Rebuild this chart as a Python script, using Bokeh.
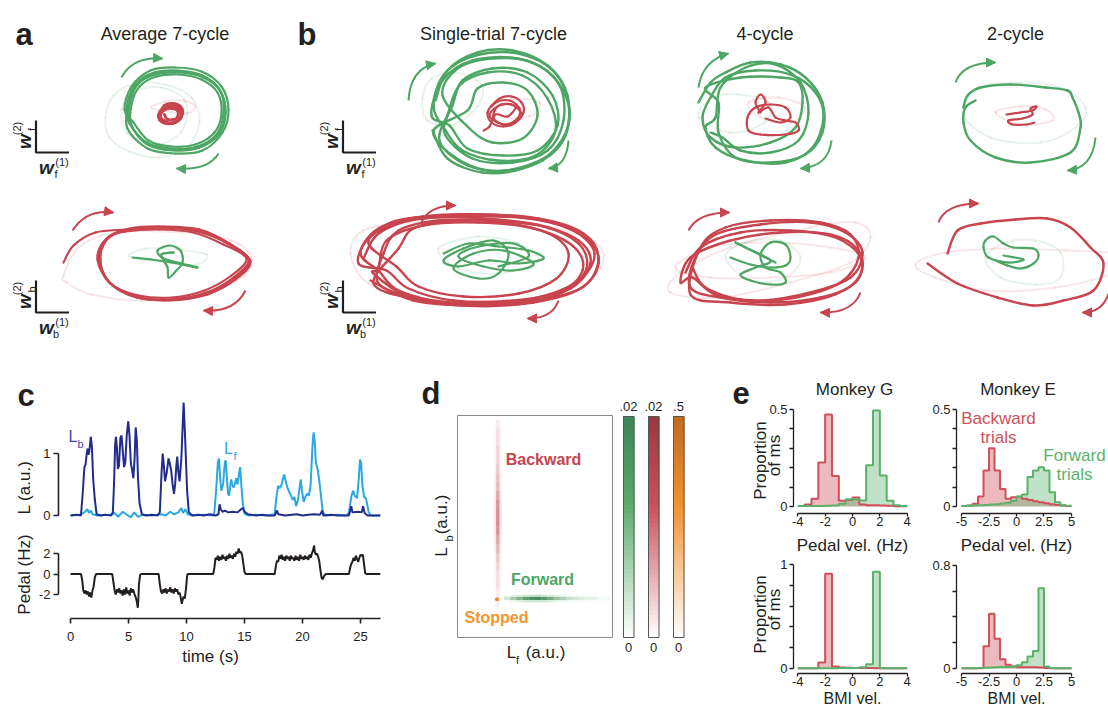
from bokeh.plotting import figure
from bokeh.layouts import row, column
from bokeh.models import Range1d, Label, Arrow, NormalHead, FixedTicker, CustomJSTickFormatter
from bokeh.embed import file_html
from bokeh.resources import INLINE

FONT = "Liberation Sans"
INK = "#231f20"
GREEN = "#4ea664"
RED = "#c8444e"
FAINT = 0.13
NAVY = "#212c8c"
SKY = "#2aa9e1"

# ======================= DATA =======================
cycle_titles = ["Average 7-cycle", "Single-trial 7-cycle", "4-cycle", "2-cycle"]

# --- panel a: average 7-cycle, forward plane (w_f) ---
avg7_fwd_green = [(-46, 2), (-38, 24), (-20, 36), (4, 38), (28, 34), (46, 20), (52, -2), (46, -24), (26, -38), (0, -41), (-26, -35), (-42, -16),
                  (-42, 5), (-34, 23), (-17, 33), (6, 35), (28, 30), (44, 17), (48, -4), (41, -23), (22, -35), (-2, -37), (-25, -31), (-40, -13),
                  (-49, 0), (-42, 23), (-23, 39), (2, 42), (28, 38), (48, 23), (55, 0), (49, -23), (29, -41), (2, -44), (-26, -39), (-46, -19),
                  (-45, 3), (-37, 26), (-19, 37), (5, 39), (29, 34), (46, 20), (52, -3), (45, -24), (25, -38), (-1, -40), (-26, -34), (-43, -15),
                  (-44, 4), (-36, 25), (-18, 35), (6, 37), (30, 32), (47, 18), (50, -4), (43, -25), (24, -37), (-2, -39), (-27, -33), (-44, -14),
                  (-47, 1), (-39, 24), (-21, 36), (3, 38)]
avg7_fwd_red = [(-13, -3), (-9, 4), (-1, 6), (7, 3), (9, -4), (3, -12), (-7, -14), (-14, -10), (-12, -2), (-5, 3), (5, 1), (8, -7),
                (1, -13), (-9, -13), (-15, -7), (-11, 1), (-3, 5), (6, 2), (7, -8), (-1, -14), (-10, -11), (-13, -5), (-6, 1), (4, -1),
                (3, -9), (-6, -10), (-9, -5)]
avg7_fwd_faint_green = [[(-68, -8), (-60, 14), (-38, 26), (-8, 25), (18, 12), (26, -12), (14, -38), (-14, -48), (-44, -42), (-64, -28)],
                        [(-52, 0), (-38, 18), (-12, 22), (12, 8), (8, -22), (-20, -36), (-46, -24)]]
avg7_fwd_faint_red = [[(-22, 2), (-8, 8), (10, 9), (22, 3), (14, -4), (-5, -2)]]

# --- panel a: average 7-cycle, backward plane (w_b) ---
avg7_bwd_red = [(-108, 0), (-98, 17), (-76, 30),
                (-45, 33), (-10, 35), (25, 32), (55, 20), (77, 3), (62, -15), (35, -30), (0, -37), (-35, -35), (-62, -20), (-73, 5), (-65, 24),
                (-42, 34), (-8, 36), (28, 33), (58, 19), (79, 1), (64, -17), (36, -32), (-2, -38), (-37, -34), (-64, -18), (-71, 7), (-62, 26),
                (-46, 31), (-12, 33), (22, 30), (52, 18), (75, 4), (60, -13), (33, -28), (1, -35), (-33, -33), (-61, -21), (-74, 3), (-66, 22),
                (-43, 33), (-9, 35), (26, 31), (56, 19), (78, 2), (63, -16), (34, -31), (0, -37), (-36, -34), (-63, -19), (-72, 6), (-63, 25), (-44, 32)]
avg7_bwd_green = [(-39, 5), (-20, 3), (0, 0), (26, -5), (10, -1), (-8, 4), (-14, 12), (-2, 17), (9, 12), (11, 0), (4, -9), (-3, -15),
                  (-4, -5), (-10, 8), (2, 10), (-8, 9)]
avg7_bwd_faint_red = [[(-108, -13), (-92, 16), (-55, 30), (10, 30), (60, 22), (80, 5), (70, -15), (30, -32), (-30, -38), (-80, -32), (-105, -20)]]
avg7_bwd_faint_green = [[(-42, 6), (-25, 14), (5, 13), (35, 8), (25, -2), (-5, 0)]]

# --- panel b: single-trial 7-cycle ---
single_fwd_green = [(-62, 10), (-50, 40), (-20, 58), (15, 60), (50, 45), (70, 15), (68, -25), (45, -50), (10, -60), (-30, -55), (-58, -30),
                    (-45, 5), (-35, 30), (-5, 42), (30, 38), (55, 15), (60, -15), (40, -40), (5, -45), (-30, -38), (-48, -15),
                    (-66, -5), (-55, 30), (-25, 50), (20, 52), (55, 35), (72, 0), (62, -35), (30, -55), (-10, -60), (-45, -45), (-64, -20),
                    (-30, 0), (-20, 22), (5, 28), (30, 20), (40, -5), (25, -28), (-5, -32), (-28, -18),
                    (-55, 15), (-40, 42), (-5, 52), (35, 48), (62, 25), (66, -10), (50, -40), (15, -52), (-25, -48), (-52, -25),
                    (-50, -5), (-38, 25), (-10, 38), (25, 35), (50, 12), (58, -20), (38, -45), (0, -50), (-35, -40), (-52, -20),
                    (-64, 5), (-52, 38), (-18, 56), (25, 56), (60, 35), (72, -5), (58, -38), (25, -58), (-15, -62), (-50, -48), (-65, -20)]
single_fwd_red = [(-6, 4), (2, 12), (14, 14), (24, 8), (26, -2), (18, -12), (6, -16), (-6, -12), (-10, -2), (-2, 8), (12, 10), (22, 2),
                  (20, -8), (8, -14), (-4, -8), (0, 4), (14, 6), (24, -4), (14, -14), (0, -12), (-8, -4), (4, 6), (18, 4), (10, -6),
                  (-2, -4), (-8, -16), (-14, -20)]
single_fwd_faint_green = [[(-75, 12), (-66, 32), (-42, 38), (-16, 26), (-20, 4), (-44, -14), (-70, -10)]]
single_fwd_faint_red = [[(-2, 6), (20, 12), (42, 8), (32, -6), (6, -6)]]

single_bwd_red = [(-115, 0), (-100, 25), (-60, 40), (0, 44), (60, 40), (105, 25), (120, 0), (105, -28), (60, -42), (0, -46), (-60, -40), (-100, -25),
                  (-95, 5), (-80, 28), (-40, 38), (10, 38), (65, 32), (100, 15), (108, -10), (85, -32), (35, -42), (-25, -42), (-70, -30), (-92, -12),
                  (-120, -5), (-108, 22), (-70, 38), (-10, 42), (50, 40), (95, 28), (116, 5), (100, -22), (55, -40), (-5, -45), (-65, -40), (-105, -25),
                  (-80, 10), (-65, 30), (-25, 38), (25, 36), (70, 25), (90, 5), (78, -20), (40, -35), (-15, -38), (-60, -28), (-82, -8),
                  (-110, 15), (-90, 35), (-50, 42), (5, 40), (58, 34), (100, 18), (112, -5), (92, -30), (45, -45), (-15, -47), (-70, -38), (-105, -15),
                  (-100, -10), (-92, 18), (-55, 33), (0, 36), (55, 30), (95, 12), (104, -12), (80, -35), (30, -44), (-30, -44), (-80, -32), (-100, -12),
                  (-118, 5), (-100, 30), (-55, 42), (5, 44), (65, 38), (108, 20), (120, -5), (102, -30), (55, -44), (-5, -47), (-65, -42), (-108, -22)]
single_bwd_green = [(-35, 5), (-10, 15), (20, 12), (50, 8), (65, 0), (40, -5), (10, -2), (-20, -8), (-35, -2), (-15, 10), (15, 18), (30, 5),
                    (20, -15), (0, -20), (-25, -10), (-5, 5), (25, 8), (55, -5), (35, -12), (5, -8), (-20, 2), (0, 12), (35, 15), (50, 2), (20, -8)]
single_bwd_faint_red = [[(-128, 5), (-115, 28), (-70, 36), (0, 36), (70, 32), (118, 15), (122, -10), (90, -35), (20, -42), (-60, -40), (-110, -25)]]
single_bwd_faint_green = [[(-40, 10), (0, 22), (40, 15), (60, -2), (20, -15), (-20, -10)]]

# --- panel b: 4-cycle ---
four_fwd_green = [(-62, 10), (-50, 30),
                  (-35, 40), (-10, 50), (20, 48), (45, 35), (62, 10), (62, -20), (45, -42), (10, -50), (-25, -45), (-42, -20), (-42, 10),
                  (-55, 25), (-20, 35), (20, 35), (38, 30), (42, 10), (35, -15), (10, -30), (-25, -35), (-50, -25), (-58, -5),
                  (-50, 15), (-35, 35), (-5, 42), (30, 38), (55, 20), (63, -5), (52, -35), (25, -50), (-15, -48), (-45, -35), (-55, -15),
                  (-45, -5), (-40, 25), (-15, 45), (15, 48), (40, 30), (48, 0), (38, -28), (10, -40), (-20, -38), (-38, -25), (-50, -20)]
four_fwd_red = [(0, 0), (-5, 10), (0, 18), (5, 10), (-2, 0), (8, 5), (15, -5), (25, -8), (35, -10), (38, -18), (25, -22), (0, -22),
                (-12, -18), (-13, -5), (-5, 5), (10, 8), (25, 5), (30, -5), (20, -10), (5, -6)]
four_fwd_faint_green = [[(-62, -5), (-48, 15), (-22, 18), (8, 10), (4, -10), (-30, -20)]]
four_fwd_faint_red = [[(-12, 10), (18, 15), (44, 5), (30, -10), (0, -5)]]

four_bwd_red = [(-85, -10), (-70, 15), (-30, 30), (20, 32), (65, 25), (90, 5), (85, -20), (50, -35), (0, -40), (-50, -35), (-80, -25),
                (-75, 5), (-55, 28), (-10, 38), (40, 40), (75, 30), (92, 10), (80, -15), (40, -30), (-10, -38), (-55, -32), (-78, -15),
                (-90, -20), (-80, 5), (-40, 22), (10, 30), (60, 28), (88, 12), (90, -12), (65, -32), (15, -42), (-40, -40), (-80, -32),
                (-70, 15), (-45, 35), (0, 42), (50, 40), (80, 28), (88, 5), (70, -20), (25, -35), (-25, -38), (-65, -25), (-78, -5)]
four_bwd_green = [(-40, 5), (-20, -2), (0, -5), (15, -3), (20, 5), (15, 18), (0, 20), (-10, 8), (-5, -5), (10, -10), (15, -20), (0, -22),
                  (-20, -18), (-30, -12), (-15, -5), (0, 2), (-25, 15), (-35, 20), (-15, 10), (5, 0)]
four_bwd_faint_red = [[(-100, -30), (-90, -10), (-40, 15), (40, 35), (85, 40), (100, 25), (80, 0), (20, -20), (-50, -35)],
                      [(-95, -5), (-60, 15), (0, 20), (60, 15), (95, 5), (60, -10), (0, -15), (-60, -15)]]
four_bwd_faint_green = [[(-45, 5), (-25, 20), (10, 22), (30, 5), (15, -15), (-20, -18)]]

# --- panel b: 2-cycle ---
two_fwd_green = [(-57, 15), (-53, 27), (-40, 35), (-10, 38), (25, 35), (47, 32), (52, 25), (58, 10), (60, -5), (50, -30), (10, -40),
                 (-25, -35), (-50, -18), (-57, 0), (-55, 15), (-45, 22)]
two_fwd_red = [(-14, 8), (0, 10), (12, 12), (16, 16), (10, 14), (12, 8), (2, 4), (-12, 2), (-8, -2), (6, -2), (14, 0)]
two_fwd_faint_green = [[(-58, 10), (-40, 35), (0, 40), (40, 35), (65, 15), (55, -5), (20, -20), (-30, -15)]]
two_fwd_faint_red = [[(-25, 10), (0, 16), (25, 13), (32, 2), (0, -2)]]

two_bwd_red = [(-78, 9), (-68, 32), (-45, 39), (-10, 43), (22, 44), (45, 35), (65, 15), (78, -1), (68, -28), (38, -38), (8, -43),
               (-28, -35), (-68, -21), (-98, -1)]
two_bwd_green = [(-22, 7), (-2, 3), (-18, 0), (-37, 5), (-42, 15), (-40, 22), (-32, 26), (-22, 19), (-12, 15), (8, 14), (13, 7), (8, -1),
                 (-5, -6), (-18, -3), (-30, 2)]
two_bwd_faint_red = [[(-110, -2), (-80, 10), (-20, 14), (40, 12), (85, 10), (110, 5), (90, -10), (30, -25), (-40, -28), (-90, -15)]]
two_bwd_faint_green = [[(-40, 5), (-20, 20), (10, 22), (35, 10), (35, -15), (10, -22), (-25, -15)]]

# --- panel c: time series ---
lb_trace = [(0.0, 0.0), (0.5, 0.01), (0.9, 0.0), (1.05, 0.35), (1.2, 0.78), (1.3, 0.82), (1.4, 1.0), (1.48, 1.08), (1.55, 0.98), (1.63, 1.05),
            (1.75, 1.27), (1.85, 1.1), (1.95, 0.6), (2.1, 0.25), (2.25, 0.02), (2.6, 0.0), (3.0, 0.01), (3.5, 0.0),
            (3.65, 0.05), (3.75, 0.5), (3.85, 1.15), (3.92, 1.27), (4.0, 1.1), (4.08, 0.75), (4.18, 0.8), (4.3, 1.25), (4.4, 1.29), (4.5, 1.05),
            (4.62, 0.78), (4.72, 0.85), (4.85, 1.3), (4.98, 1.52), (5.08, 1.3), (5.2, 0.85), (5.32, 0.72), (5.42, 0.6), (5.52, 0.9), (5.62, 1.42),
            (5.72, 1.2), (5.82, 0.6), (5.95, 0.2), (6.15, 0.02), (6.5, 0.0), (7.0, 0.01), (7.5, 0.0),
            (7.7, 0.05), (7.85, 0.7), (7.95, 1.0), (8.05, 0.8), (8.15, 0.55), (8.3, 0.7), (8.45, 0.92), (8.55, 0.85), (8.68, 0.72), (8.8, 0.5),
            (8.92, 0.35), (9.02, 0.5), (9.12, 0.8), (9.2, 0.95), (9.3, 0.7), (9.4, 0.55), (9.55, 0.9), (9.68, 1.5), (9.75, 1.82), (9.85, 1.4),
            (9.95, 0.9), (10.05, 0.4), (10.2, 0.05), (10.5, 0.0), (11.0, 0.01), (11.5, 0.0), (12.0, 0.02), (12.5, 0.0), (12.75, 0.02),
            (12.85, 0.18), (12.95, 0.1), (13.1, 0.06), (13.3, 0.08), (13.6, 0.05), (14.0, 0.06), (14.4, 0.05), (14.7, 0.1), (14.85, 0.12),
            (15.0, 0.06), (15.3, 0.02), (16.0, 0.0), (16.5, 0.01), (17.0, 0.0), (17.6, 0.0), (17.8, 0.08), (17.9, 0.02), (18.5, 0.0),
            (19.5, 0.02), (20.0, 0.0), (20.5, 0.01), (21.0, 0.02), (21.5, 0.01), (21.7, 0.08), (21.8, 0.0), (22.5, 0.01), (23.0, 0.0),
            (24.0, 0.0), (24.1, 0.08), (24.2, 0.15), (24.3, 0.05), (24.8, 0.06), (25.1, 0.05), (25.22, 0.15), (25.35, 0.04), (25.6, 0.0),
            (26.7, 0.0)]
lf_trace = [(0.0, 0.0), (0.8, 0.01), (1.2, 0.05), (1.45, 0.1), (1.6, 0.04), (1.75, 0.08), (1.9, 0.02), (2.3, 0.0), (3.5, 0.01), (3.8, 0.04),
            (4.1, -0.02), (4.5, 0.06), (4.8, 0.02), (5.2, -0.03), (5.5, 0.05), (5.8, -0.02), (6.2, 0.01), (7.0, 0.0), (7.8, 0.02), (8.2, 0.0),
            (8.6, 0.06), (8.9, 0.02), (9.3, 0.05), (9.55, 0.12), (9.7, 0.04), (9.9, 0.1), (10.1, 0.02), (10.5, 0.0), (11.5, 0.01), (12.3, 0.0),
            (12.4, 0.05), (12.55, 0.4), (12.7, 0.85), (12.8, 0.92), (12.9, 0.6), (13.0, 0.4), (13.15, 0.5), (13.3, 0.85), (13.38, 0.89),
            (13.48, 0.6), (13.58, 0.35), (13.68, 0.32), (13.78, 0.5), (13.85, 0.58), (13.95, 0.5), (14.05, 0.45), (14.15, 0.5), (14.3, 0.6),
            (14.4, 0.5), (14.55, 0.7), (14.62, 0.78), (14.72, 0.5), (14.85, 0.2), (15.0, 0.03), (15.3, 0.0), (16.0, 0.01), (17.0, 0.0),
            (17.6, 0.02), (17.75, 0.3), (17.9, 0.48), (18.05, 0.44), (18.2, 0.5), (18.35, 0.62), (18.42, 0.66), (18.55, 0.55), (18.7, 0.45),
            (18.85, 0.38), (19.0, 0.32), (19.15, 0.25), (19.3, 0.3), (19.45, 0.15), (19.6, 0.25), (19.75, 0.45), (19.85, 0.58), (19.95, 0.4),
            (20.1, 0.22), (20.25, 0.3), (20.4, 0.35), (20.55, 0.32), (20.7, 0.5), (20.85, 1.1), (20.95, 1.34), (21.05, 1.2), (21.15, 0.85),
            (21.3, 0.75), (21.45, 0.55), (21.6, 0.3), (21.75, 0.05), (22.0, 0.0), (23.0, 0.01), (23.8, 0.0),
            (24.0, 0.05), (24.2, 0.3), (24.35, 0.4), (24.5, 0.32), (24.7, 0.28), (24.85, 0.6), (24.95, 0.9), (25.05, 0.85), (25.15, 0.5),
            (25.3, 0.3), (25.45, 0.28), (25.55, 0.2), (25.7, 0.05), (25.9, 0.0), (26.7, 0.0)]
pedal_trace = [(0, 0), (0.9, 0), (1.0, -0.5), (1.1, -1.6), (1.2, -1.9), (1.3, -1.6), (1.4, -2.0), (1.5, -1.7), (1.6, -2.2), (1.7, -1.8),
               (1.8, -2.3), (1.9, -1.6), (2.0, -1.2), (2.1, -0.3), (2.2, 0.0), (3.6, 0.0), (3.7, -0.8), (3.8, -1.6), (3.9, -2.0), (4.0, -1.5),
               (4.1, -1.8), (4.2, -1.4), (4.3, -1.9), (4.4, -1.6), (4.5, -2.1), (4.6, -1.5), (4.7, -2.0), (4.8, -1.3), (4.9, -1.9), (5.0, -1.6),
               (5.1, -2.1), (5.2, -1.4), (5.3, -1.8), (5.4, -1.5), (5.5, -1.9), (5.6, -2.2), (5.7, -2.6), (5.8, -3.3), (5.85, -2.5), (5.9, -1.0),
               (6.0, -0.1), (6.1, 0.0), (7.6, 0.0), (7.7, -1.0), (7.8, -1.7), (7.9, -1.9), (8.0, -1.5), (8.1, -1.8), (8.2, -1.4), (8.3, -1.9),
               (8.4, -1.5), (8.5, -1.7), (8.6, -1.3), (8.7, -1.8), (8.8, -1.5), (8.9, -1.9), (9.0, -1.4), (9.1, -1.7), (9.2, -1.5), (9.3, -2.0),
               (9.4, -1.8), (9.5, -2.3), (9.6, -2.9), (9.65, -2.6), (9.75, -2.2), (9.85, -2.4), (9.95, -1.5), (10.05, -0.2), (10.1, 0.0),
               (12.3, 0.0), (12.4, 0.6), (12.5, 1.6), (12.6, 1.4), (12.7, 1.8), (12.8, 1.3), (12.9, 1.7), (13.0, 1.4), (13.1, 1.9), (13.2, 1.5),
               (13.3, 1.7), (13.4, 1.3), (13.5, 1.8), (13.6, 1.5), (13.7, 2.0), (13.8, 1.6), (13.9, 1.8), (14.0, 1.5), (14.1, 2.0), (14.2, 1.7),
               (14.3, 2.2), (14.4, 2.0), (14.5, 2.5), (14.6, 2.1), (14.7, 2.2), (14.8, 1.8), (14.9, 1.0), (15.0, 0.2), (15.1, 0.0),
               (17.6, 0.0), (17.7, 0.8), (17.8, 1.3), (17.9, 1.2), (18.0, 1.8), (18.1, 1.5), (18.2, 1.9), (18.3, 1.4), (18.4, 1.7), (18.5, 1.3),
               (18.6, 1.8), (18.7, 1.5), (18.8, 1.7), (18.9, 1.3), (19.0, 1.8), (19.1, 1.5), (19.2, 1.6), (19.3, 1.3), (19.4, 1.8), (19.5, 1.4),
               (19.6, 1.7), (19.7, 1.3), (19.8, 1.9), (19.9, 1.5), (20.0, 1.7), (20.1, 1.4), (20.2, 1.8), (20.3, 1.5), (20.4, 1.7), (20.5, 1.4),
               (20.6, 1.9), (20.7, 1.6), (20.8, 2.0), (20.9, 2.3), (21.0, 2.8), (21.05, 2.2), (21.15, 1.9), (21.25, 2.0), (21.35, 1.7),
               (21.45, 1.2), (21.55, 0.3), (21.65, -0.4), (21.75, -0.5), (21.85, -0.2), (22.0, 0.0), (24.0, 0.0), (24.1, 0.6), (24.2, 1.0),
               (24.3, 1.2), (24.4, 1.6), (24.5, 1.3), (24.6, 1.8), (24.7, 1.5), (24.8, 1.2), (24.9, 1.6), (25.0, 1.9), (25.1, 1.8), (25.2, 1.9),
               (25.3, 1.0), (25.4, 0.1), (25.5, 0.0), (26.7, 0.0)]
c_time_ticks = [0, 5, 10, 15, 20, 25]
c_L_ticks = [0, 1]
c_pedal_ticks = [-2, 0, 2]

# --- panel d: density of (L_f, L_b) ---
d_backward_lf = 0.26
d_backward_lb = [0.96, 0.92, 0.88, 0.84, 0.80, 0.76, 0.72, 0.68, 0.64, 0.60, 0.56, 0.52, 0.48, 0.44, 0.40, 0.36, 0.32, 0.28, 0.24, 0.20, 0.16, 0.12]
d_backward_density = [0.002, 0.003, 0.003, 0.004, 0.004, 0.005, 0.006, 0.007, 0.009, 0.011, 0.012, 0.012, 0.011, 0.009, 0.007, 0.005, 0.004,
                      0.003, 0.003, 0.002, 0.002, 0.001]
d_forward_lb = 0.176
d_forward_lf = [0.32, 0.36, 0.40, 0.44, 0.48, 0.52, 0.56, 0.60, 0.64, 0.68, 0.72, 0.76, 0.80, 0.84, 0.88, 0.92, 0.96]
d_forward_density = [0.004, 0.008, 0.012, 0.016, 0.018, 0.019, 0.017, 0.014, 0.010, 0.007, 0.005, 0.004, 0.003, 0.002, 0.002, 0.001, 0.001]
d_stopped_lf, d_stopped_lb, d_stopped_density = 0.255, 0.172, 0.5
d_cbar_max_labels = [".02", ".02", ".5"]

# --- panel e: histograms (proportion of ms) ---
edges_G = [-4, -3.5, -3, -2.5, -2, -1.5, -1, -0.5, 0, 0.5, 1, 1.5, 2, 2.5, 3, 3.5, 4]
edges_E = [-5, -4.5, -4, -3.5, -3, -2.5, -2, -1.5, -1, -0.5, 0, 0.5, 1, 1.5, 2, 2.5, 3, 3.5, 4, 4.5, 5]
pedal_G_backward = [0.003, 0.010, 0.040, 0.227, 0.474, 0.157, 0.030, 0.034, 0.046, 0.010, 0.007, 0.006, 0.005, 0.004, 0.002, 0.001]
pedal_G_forward = [0.003, 0.003, 0.003, 0.003, 0.004, 0.005, 0.014, 0.037, 0.037, 0.031, 0.213, 0.495, 0.160, 0.030, 0.007, 0.003]
pedal_E_backward = [0.003, 0.005, 0.014, 0.052, 0.186, 0.300, 0.186, 0.090, 0.040, 0.048, 0.050, 0.040, 0.033, 0.027, 0.022, 0.017, 0.012,
                    0.008, 0.005, 0.003]
pedal_E_forward = [0.003, 0.004, 0.005, 0.006, 0.008, 0.010, 0.012, 0.015, 0.020, 0.030, 0.052, 0.062, 0.152, 0.186, 0.203, 0.186, 0.074,
                   0.022, 0.006, 0.004]
bmi_G_backward = [0.002, 0.002, 0.002, 0.058, 0.910, 0.020, 0.010, 0.008, 0.006, 0.006, 0.005, 0.003, 0.002, 0.002, 0.002, 0.002]
bmi_G_forward = [0.002, 0.002, 0.002, 0.002, 0.002, 0.003, 0.004, 0.005, 0.006, 0.013, 0.040, 0.930, 0.002, 0.002, 0.002, 0.002]
bmi_E_backward = [0.002, 0.002, 0.002, 0.002, 0.173, 0.425, 0.230, 0.072, 0.028, 0.015, 0.010, 0.010, 0.010, 0.010, 0.008, 0.004, 0.002,
                  0.002, 0.002, 0.002]
bmi_E_forward = [0.002, 0.002, 0.002, 0.003, 0.005, 0.008, 0.010, 0.011, 0.012, 0.015, 0.025, 0.049, 0.093, 0.135, 0.624, 0.016, 0.003,
                 0.002, 0.002, 0.002]
e_xticks_G = [-4, -2, 0, 2, 4]
e_xticks_E = [-5, -2.5, 0, 2.5, 5]


# ======================= HELPERS =======================
class Frame:
    def __init__(self, fx0, fy0, fx1, fy1, xr, yr):
        self.fx0, self.fy0, self.fx1, self.fy1, self.xr, self.yr = fx0, fy0, fx1, fy1, xr, yr

    def x(self, px):
        return self.xr[0] + (px - self.fx0) / (self.fx1 - self.fx0) * (self.xr[1] - self.xr[0])

    def y(self, py):
        return self.yr[0] + (self.fy1 - py) / (self.fy1 - self.fy0) * (self.yr[1] - self.yr[0])


def make_fig(box, fbox, xr, yr, xaxis=False, yaxis=False, outline=None):
    """Figure whose plotting frame covers the whole box; the axes are pinned
    (fixed_location) at the edges of the inner area fbox that maps to xr / yr."""
    ox, oy, W, H = box
    fx0, fy0, fx1, fy1 = fbox
    sx = (xr[1] - xr[0]) / (fx1 - fx0)
    sy = (yr[1] - yr[0]) / (fy1 - fy0)
    XR = (xr[0] - (fx0 - ox) * sx, xr[1] + (ox + W - fx1) * sx)
    YR = (yr[0] - (oy + H - fy1) * sy, yr[1] + (fy0 - oy) * sy)
    p = figure(width=W, height=H, output_backend="svg", toolbar_location=None,
               x_range=Range1d(*XR), y_range=Range1d(*YR),
               x_axis_location="below" if xaxis else None,
               y_axis_location="left" if yaxis else None,
               min_border=0, min_border_left=0, min_border_right=0, min_border_top=0, min_border_bottom=0,
               background_fill_color="white", border_fill_color="white")
    p.outline_line_color = None
    for g in p.grid:
        g.visible = False
    if xaxis:
        p.xaxis[0].fixed_location = yr[0]
    if yaxis:
        p.yaxis[0].fixed_location = xr[0]
    if outline:
        p.quad(left=[xr[0]], right=[xr[1]], bottom=[yr[0]], top=[yr[1]], fill_color=None, line_color=outline, line_width=1)
    return p, Frame(ox, oy, ox + W, oy + H, XR, YR)


def traj_fig(box, center):
    ox, oy, W, H = box
    cx, cy = center
    return make_fig(box, (ox, oy, ox + W, oy + H), (ox - cx, ox + W - cx), (cy - (oy + H), cy - oy))


def lab(p, fr, px, py, text, size=13, color=INK, style="normal", angle=0, align="center", baseline="middle"):
    p.add_layout(Label(x=fr.x(px), y=fr.y(py), text=text, text_font=FONT, text_font_size=f"{size}px",
                       text_color=color, text_font_style=style, angle=angle, angle_units="deg",
                       text_align=align, text_baseline=baseline))


def smooth(p, pts, color, width, alpha=1.0, closed=False):
    n = len(pts)
    seg = n if closed else n - 1

    def P(i):
        return pts[i % n] if closed else pts[min(max(i, 0), n - 1)]
    d = {k: [] for k in ("x0", "y0", "x1", "y1", "cx0", "cy0", "cx1", "cy1")}
    for i in range(seg):
        a, b, m, q = P(i), P(i + 1), P(i - 1), P(i + 2)
        d["x0"].append(a[0]); d["y0"].append(a[1]); d["x1"].append(b[0]); d["y1"].append(b[1])
        d["cx0"].append(a[0] + (b[0] - m[0]) / 6); d["cy0"].append(a[1] + (b[1] - m[1]) / 6)
        d["cx1"].append(b[0] - (q[0] - a[0]) / 6); d["cy1"].append(b[1] - (q[1] - a[1]) / 6)
    p.bezier(**d, line_color=color, line_width=width, line_alpha=alpha, line_cap="round")


def carrow(p, fr, s, c, e, color):
    sx, sy, cx, cy, ex, ey = fr.x(s[0]), fr.y(s[1]), fr.x(c[0]), fr.y(c[1]), fr.x(e[0]), fr.y(e[1])
    p.quadratic(x0=[sx], y0=[sy], x1=[ex], y1=[ey], cx=[cx], cy=[cy], line_color=color, line_width=2)
    p.add_layout(Arrow(end=NormalHead(size=9, fill_color=color, line_color=color, line_width=1),
                       x_start=cx, y_start=cy, x_end=ex, y_end=ey, line_alpha=0))


def wbar(p, fr, x0, y0, y1, x1, sub):
    p.line([fr.x(x0), fr.x(x0), fr.x(x1)], [fr.y(y0), fr.y(y1), fr.y(y1)], line_color=INK, line_width=2.2)
    lab(p, fr, x0 - 11.5, y0 + 21, "w", 19, style="bold italic", angle=90)
    lab(p, fr, x0 - 19, y0 + 8, "(2)", 11, angle=90)
    lab(p, fr, x0 - 4, y0 + 9, sub, 11, angle=90)
    lab(p, fr, x0 + 10.5, y1 + 14.5, "w", 19, style="bold italic")
    lab(p, fr, x0 + 26, y1 + 9, "(1)", 11)
    lab(p, fr, x0 + 20, y1 + 21, sub, 11)


def traj_panel(box, center, main, inner, faint_main, faint_inner, mcol, icol, arrows, mw=2.4, iw=2.2):
    p, fr = traj_fig(box, center)
    for lp in faint_main:
        smooth(p, lp, mcol, 2, FAINT, closed=True)
    for lp in faint_inner:
        smooth(p, lp, icol, 2, FAINT, closed=True)
    smooth(p, main, mcol, mw)
    smooth(p, inner, icol, iw)
    for s, c, e in arrows:
        carrow(p, fr, s, c, e, mcol)
    return p, fr


def style_axis(ax, ticks, minor=None, bounds=None, tick_out=4, standoff=2, lw=1.3):
    ax.ticker = FixedTicker(ticks=ticks, minor_ticks=minor or [])
    ax.bounds = bounds
    ax.formatter = CustomJSTickFormatter(code="return String(tick)")
    ax.axis_line_color = INK
    ax.axis_line_width = lw
    ax.major_tick_line_color = INK
    ax.major_tick_line_width = lw
    ax.major_tick_out = tick_out
    ax.major_tick_in = 0
    ax.minor_tick_line_color = INK if minor else None
    ax.minor_tick_line_width = lw
    ax.minor_tick_out = tick_out if minor else 0
    ax.minor_tick_in = 0
    ax.major_label_text_font = FONT
    ax.major_label_text_font_size = "13px"
    ax.major_label_text_color = INK
    ax.major_label_standoff = standoff


# ======================= PANELS a / b =======================
aT, fa = traj_panel((0, 0, 290, 185), (173, 109), avg7_fwd_green, avg7_fwd_red, avg7_fwd_faint_green, avg7_fwd_faint_red,
                    GREEN, RED, [((121, 77), (132, 56), (162, 58)), ((218, 153), (208, 170), (176, 168))], mw=2.2, iw=3)
lab(aT, fa, 15, 34, "a", 31, style="bold", align="left", baseline="alphabetic")
lab(aT, fa, 164.5, 33, cycle_titles[0], 18, baseline="alphabetic")
wbar(aT, fa, 35.5, 120, 152, 68.5, "f")

aB, fab = traj_panel((0, 185, 290, 155), (171, 262), avg7_bwd_red, avg7_bwd_green, avg7_bwd_faint_red, avg7_bwd_faint_green,
                     RED, GREEN, [((72, 230), (86, 208), (113, 212)), ((245, 290), (234, 312), (203, 310))], mw=2.2)
wbar(aB, fab, 35.5, 280, 312, 68.5, "b")

bT, fb = traj_panel((290, 0, 335, 185), (497, 110), single_fwd_green, single_fwd_red, single_fwd_faint_green, single_fwd_faint_red,
                    GREEN, RED, [((408, 100), (410, 68), (435, 63)), ((568, 140), (566, 166), (548, 168))])
lab(bT, fb, 297, 34, "b", 31, style="bold", align="left", baseline="alphabetic")
lab(bT, fb, 493, 33, cycle_titles[1], 18, baseline="alphabetic")
wbar(bT, fb, 342.5, 120, 152, 375.5, "f")

bB, fbb = traj_panel((290, 185, 335, 155), (478, 258), single_bwd_red, single_bwd_green, single_bwd_faint_red, single_bwd_faint_green,
                     RED, GREEN, [((421, 222), (428, 205), (455, 205)), ((558, 300), (552, 318), (527, 318))])
wbar(bB, fbb, 342.5, 280, 312, 375.5, "b")

cT4, f4 = traj_panel((625, 0, 265, 185), (760, 112), four_fwd_green, four_fwd_red, four_fwd_faint_green, four_fwd_faint_red,
                     GREEN, RED, [((698, 87), (702, 60), (728, 53)), ((831, 140), (828, 166), (800, 168))])
lab(cT4, f4, 764.5, 33, cycle_titles[2], 18, baseline="alphabetic")
cB4, f4b = traj_panel((625, 185, 265, 155), (770, 262), four_bwd_red, four_bwd_green, four_bwd_faint_red, four_bwd_faint_green,
                      RED, GREEN, [((688, 230), (697, 212), (729, 212)), ((860, 292), (852, 313), (820, 312))])

dT2, f2 = traj_panel((890, 0, 218, 185), (1020, 122), two_fwd_green, two_fwd_red, two_fwd_faint_green, two_fwd_faint_red,
                     GREEN, RED, [((955, 82), (962, 62), (995, 62)), ((1095, 137), (1092, 168), (1067, 170))])
lab(dT2, f2, 1015, 33, cycle_titles[3], 18, baseline="alphabetic")
dB2, f2b = traj_panel((890, 185, 218, 155), (1025, 262), two_bwd_red, two_bwd_green, two_bwd_faint_red, two_bwd_faint_green,
                      RED, GREEN, [((938, 222), (945, 203), (978, 203)), ((1108, 293), (1102, 312), (1082, 312))])

top = row(column(aT, aB), column(bT, bB), column(cT4, cB4), column(dT2, dB2))

# ======================= PANEL c =======================
XR_C = (-1.034, 26.72)
cL, fcl = make_fig((0, 340, 400, 185), (58, 395, 380, 520), XR_C, (-0.081, 1.935), yaxis=True)
style_axis(cL.yaxis[0], c_L_ticks, bounds=(0, 1), tick_out=5, standoff=3, lw=1.6)
cL.line([t for t, v in lf_trace], [v for t, v in lf_trace], line_color=SKY, line_width=2)
cL.line([t for t, v in lb_trace], [v for t, v in lb_trace], line_color=NAVY, line_width=2)
lab(cL, fcl, 17, 395, "c", 31, style="bold", align="left", baseline="alphabetic")
lab(cL, fcl, 24, 487, "L (a.u.)", 17, angle=90)
lab(cL, fcl, 72.5, 436, "L", 16, color="#3d48a0")
lab(cL, fcl, 80, 443, "b", 11, color="#3d48a0")
lab(cL, fcl, 228, 447.5, "L", 16, color=SKY)
lab(cL, fcl, 234.5, 455, "f", 11, color=SKY)

cP, fcp = make_fig((0, 525, 400, 183), (58, 535, 380, 618), XR_C, (-4.35, 3.78), xaxis=True, yaxis=True)
style_axis(cP.yaxis[0], c_pedal_ticks, bounds=(-2, 2), tick_out=5, standoff=3, lw=1.6)
style_axis(cP.xaxis[0], c_time_ticks, bounds=(0, 26.72), tick_out=5, standoff=8, lw=1.6)
cP.line([t for t, v in pedal_trace], [v for t, v in pedal_trace], line_color=INK, line_width=2)
lab(cP, fcp, 24, 574, "Pedal (Hz)", 17, angle=90)
lab(cP, fcp, 210, 656, "time (s)", 17)

# ======================= PANEL d =======================
dF, fd = make_fig((400, 340, 215, 368), (457, 415, 612, 637), (0, 1), (0, 1), outline="#8a8a8a")
dF.rect(x=[d_backward_lf] * len(d_backward_lb), y=d_backward_lb, width=0.05, height=0.04, fill_color="#c8444e",
        fill_alpha=[v / 0.02 * 0.25 for v in d_backward_density], line_color=None)
dF.rect(x=[d_backward_lf] * len(d_backward_lb), y=d_backward_lb, width=0.022, height=0.04, fill_color="#b3333f",
        fill_alpha=[v / 0.02 * 0.8 for v in d_backward_density], line_color=None)
dF.rect(x=d_forward_lf, y=[d_forward_lb] * len(d_forward_lf), width=0.04, height=0.035, fill_color="#4ea664",
        fill_alpha=[v / 0.02 * 0.3 for v in d_forward_density], line_color=None)
dF.rect(x=d_forward_lf, y=[d_forward_lb] * len(d_forward_lf), width=0.04, height=0.014, fill_color="#2c7a43",
        fill_alpha=[v / 0.02 * 0.85 for v in d_forward_density], line_color=None)
dF.scatter([d_stopped_lf], [d_stopped_lb], size=4, fill_color="#f08a24", line_color=None, fill_alpha=d_stopped_density * 2)
lab(dF, fd, 421, 393, "d", 31, style="bold", align="left", baseline="alphabetic")
lab(dF, fd, 543, 459, "Backward", 16, color="#c8444e", style="bold")
lab(dF, fd, 542, 579, "Forward", 16, color="#4ea664", style="bold")
lab(dF, fd, 496, 617, "Stopped", 16, color="#f39531", style="bold")
lab(dF, fd, 441, 551.5, "L", 17, angle=90)
lab(dF, fd, 448, 538, "b", 11, angle=90)
lab(dF, fd, 441, 514, "(a.u.)", 17, angle=90)
lab(dF, fd, 511, 651.5, "L", 17)
lab(dF, fd, 517, 659, "f", 11)
lab(dF, fd, 545, 652, "(a.u.)", 17)


def ramp(c_mid, c_top, n=48):
    def h2r(h):
        return [int(h[i:i + 2], 16) for i in (1, 3, 5)]
    w, m, t = [255, 255, 255], h2r(c_mid), h2r(c_top)
    out = []
    for i in range(n):
        f = (i + 0.5) / n
        if f < 0.6:
            g = f / 0.6
            c = [w[k] + (m[k] - w[k]) * g for k in range(3)]
        else:
            g = (f - 0.6) / 0.4
            c = [m[k] + (t[k] - m[k]) * g for k in range(3)]
        out.append("#%02x%02x%02x" % tuple(int(round(v)) for v in c))
    return out


dC, fdc = make_fig((615, 340, 105, 368), (615, 340, 720, 708), (615, 720), (-708, -340))
for bx, pal, top_lab in [(623, ramp("#5aac6c", "#3d8554"), d_cbar_max_labels[0]),
                         (648, ramp("#c9505a", "#9a3840"), d_cbar_max_labels[1]),
                         (673, ramp("#f2922f", "#c06c1e"), d_cbar_max_labels[2])]:
    n = len(pal)
    ys = [637 - (637 - 416) * i / n for i in range(n + 1)]
    dC.quad(left=bx, right=bx + 10.5, bottom=[-ys[i] for i in range(n)], top=[-ys[i + 1] for i in range(n)],
            fill_color=pal, line_color=pal, line_width=1)
    dC.quad(left=[bx], right=[bx + 10.5], bottom=[-637], top=[-416], fill_color=None, line_color="#555555", line_width=1)
    lab(dC, fdc, bx + 5, 406, top_lab, 13)
    lab(dC, fdc, bx + 5, 647, "0", 13)

# ======================= PANEL e =======================
HR, HG = "#d0505a", "#5ab26a"


def hist(p, edges, vals, col, fa):
    ys = list(vals) + [vals[-1]]
    p.varea_step(x=edges, y1=[0] * len(edges), y2=ys, step_mode="after", fill_color=col, fill_alpha=fa)


def hist_line(p, edges, vals, col):
    ys = list(vals) + [vals[-1]]
    p.step(x=edges, y=ys, mode="after", line_color=col, line_width=2)


def e_panel(box, fbox, xr, yr, edges, back, fwd, xticks, yticks, yminor):
    p, fr = make_fig(box, fbox, xr, yr, xaxis=True, yaxis=True)
    style_axis(p.xaxis[0], xticks, bounds=(xticks[0], xticks[-1]), tick_out=3, standoff=0)
    style_axis(p.yaxis[0], yticks, minor=yminor, bounds=(yticks[0], yticks[-1]), tick_out=4, standoff=2)
    hist(p, edges, back, HR, 0.4)
    hist(p, edges, fwd, HG, 0.38)
    hist_line(p, edges, back, HR)
    hist_line(p, edges, fwd, HG)
    return p, fr


eTL, fe1 = e_panel((720, 340, 205, 216), (793, 405, 909, 513), (-4.315, 4.168), (-0.036, 0.521), edges_G,
                   pedal_G_backward, pedal_G_forward, e_xticks_G, [0, 0.5], [0.1, 0.2, 0.3, 0.4])
lab(eTL, fe1, 732, 392, "e", 31, style="bold", align="left", baseline="alphabetic")
lab(eTL, fe1, 854, 389, "Monkey G", 17)
lab(eTL, fe1, 759.5, 460, "Proportion", 17, angle=90)
lab(eTL, fe1, 774, 455, "of ms", 17, angle=90)
lab(eTL, fe1, 852, 545, "Pedal vel. (Hz)", 17)

eTR, fe2 = e_panel((925, 340, 183, 216), (956, 405, 1074, 513), (-5.455, 5.273), (-0.036, 0.521), edges_E,
                   pedal_E_backward, pedal_E_forward, e_xticks_E, [0, 0.5], [0.1, 0.2, 0.3, 0.4])
lab(eTR, fe2, 1017.5, 389, "Monkey E", 17)
lab(eTR, fe2, 1016, 545, "Pedal vel. (Hz)", 17)
lab(eTR, fe2, 998, 418, "Backward", 17, color=HR)
lab(eTR, fe2, 998, 437, "trials", 17, color=HR)
lab(eTR, fe2, 1074, 455, "Forward", 17, color=HG)
lab(eTR, fe2, 1074, 474, "trials", 17, color=HG)

eBL, fe3 = e_panel((720, 556, 205, 152), (793, 560, 909, 673), (-4.315, 4.168), (-0.048, 1.038), edges_G,
                   bmi_G_backward, bmi_G_forward, e_xticks_G, [0, 1], [0.2, 0.4, 0.6, 0.8])
lab(eBL, fe3, 759.5, 614, "Proportion", 17, angle=90)
lab(eBL, fe3, 774, 609, "of ms", 17, angle=90)
lab(eBL, fe3, 852, 697.5, "BMI vel.", 16)

eBR, fe4 = e_panel((925, 556, 183, 152), (956, 561, 1074, 673), (-5.455, 5.273), (-0.039, 0.831), edges_E,
                   bmi_E_backward, bmi_E_forward, e_xticks_E, [0, 0.8], [0.2, 0.4, 0.6])
lab(eBR, fe4, 1016, 697.5, "BMI vel.", 16)

bottom = row(column(cL, cP), dF, dC, column(row(eTL, eTR), row(eBL, eBR)))
page = column(top, bottom)

open("out.html", "w").write(file_html(page, INLINE))
